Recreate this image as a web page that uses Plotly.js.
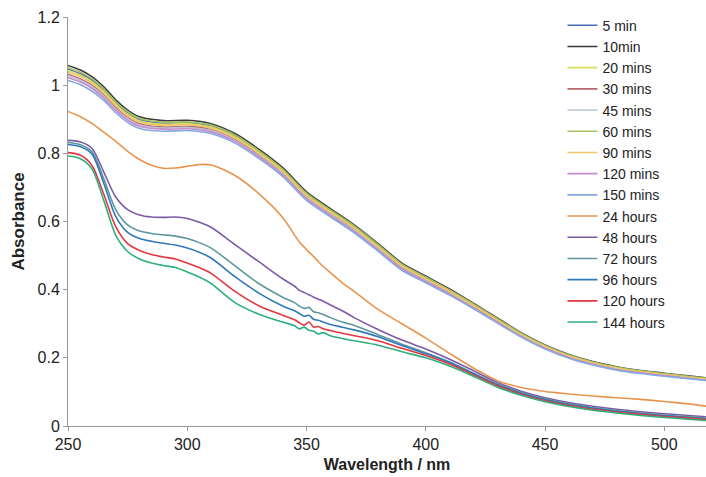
<!DOCTYPE html>
<html>
<head>
<meta charset="utf-8">
<script src="https://cdn.plot.ly/plotly-3.0.1.min.js"></script>
<style>
  html, body { margin: 0; padding: 0; background: #fff; }
  #chart { width: 706px; height: 477px; }
</style>
</head>
<body>
<div id="chart"></div>
<script>
// Wavelength grid (nm) for the early, closely bunched spectra
const wl = [250,255,260,265,270,275,280,290,300,310,320,330,340,350,360,370,380,390,400,410,420,430,440,450,460,470,480,490,500,510,518];

// Denser grid for the later spectra, which are noisy around 345-360 nm
const wlLate = [250,255,260,265,270,275,280,285,290,295,300,305,310,320,330,340,345,347,349,351,353,355,357,360,365,370,380,390,400,410,420,430,440,450,460,470,480,490,500,510,518];

// Absorbance, minutes series
const abs5min   = [1.047,1.034,1.015,0.985,0.948,0.918,0.899,0.888,0.890,0.880,0.851,0.805,0.752,0.681,0.632,0.584,0.530,0.473,0.435,0.398,0.356,0.313,0.271,0.235,0.207,0.187,0.172,0.161,0.153,0.145,0.139];
const abs10min  = [1.058,1.045,1.025,0.995,0.957,0.927,0.907,0.896,0.897,0.887,0.858,0.812,0.758,0.687,0.638,0.590,0.535,0.478,0.440,0.402,0.360,0.317,0.274,0.238,0.210,0.189,0.174,0.163,0.155,0.147,0.141];
const abs20min  = [1.043,1.030,1.010,0.981,0.944,0.914,0.895,0.885,0.887,0.877,0.848,0.803,0.749,0.678,0.630,0.582,0.527,0.471,0.433,0.396,0.354,0.312,0.269,0.234,0.206,0.186,0.171,0.160,0.152,0.144,0.138];
const abs30min  = [1.032,1.019,1.000,0.971,0.934,0.905,0.887,0.877,0.879,0.870,0.841,0.796,0.742,0.672,0.624,0.576,0.522,0.465,0.428,0.391,0.350,0.308,0.266,0.231,0.203,0.183,0.168,0.158,0.150,0.142,0.136];
const abs45min  = [1.027,1.015,0.996,0.967,0.930,0.902,0.883,0.874,0.876,0.867,0.838,0.793,0.740,0.670,0.621,0.574,0.520,0.463,0.426,0.389,0.349,0.307,0.265,0.230,0.202,0.182,0.167,0.157,0.149,0.141,0.135];
const abs60min  = [1.051,1.039,1.019,0.989,0.951,0.922,0.902,0.891,0.892,0.883,0.854,0.808,0.754,0.683,0.634,0.587,0.532,0.475,0.437,0.399,0.358,0.315,0.272,0.236,0.208,0.188,0.173,0.162,0.154,0.146,0.140];
const abs90min  = [1.038,1.026,1.006,0.977,0.940,0.911,0.892,0.882,0.884,0.874,0.845,0.800,0.746,0.676,0.627,0.580,0.525,0.469,0.431,0.394,0.353,0.310,0.268,0.233,0.205,0.185,0.170,0.159,0.151,0.143,0.137];
const abs120min = [1.022,1.010,0.991,0.962,0.926,0.897,0.879,0.871,0.872,0.863,0.835,0.790,0.737,0.667,0.618,0.571,0.517,0.461,0.424,0.387,0.347,0.305,0.263,0.228,0.201,0.181,0.166,0.156,0.148,0.140,0.134];
const abs150min = [1.014,1.002,0.983,0.955,0.919,0.891,0.873,0.865,0.867,0.858,0.830,0.785,0.732,0.662,0.614,0.567,0.513,0.457,0.420,0.384,0.344,0.302,0.261,0.226,0.199,0.179,0.164,0.154,0.146,0.139,0.133];

// Absorbance, hours series
const abs24h  = [0.923,0.908,0.888,0.862,0.835,0.806,0.782,0.765,0.756,0.757,0.762,0.767,0.766,0.735,0.682,0.612,0.560,0.540,0.525,0.510,0.497,0.482,0.468,0.450,0.420,0.395,0.342,0.300,0.258,0.213,0.170,0.133,0.113,0.101,0.094,0.088,0.083,0.078,0.072,0.065,0.058];
const abs48h  = [0.838,0.834,0.815,0.745,0.672,0.635,0.619,0.613,0.612,0.613,0.609,0.598,0.583,0.532,0.482,0.432,0.410,0.398,0.392,0.385,0.378,0.372,0.366,0.355,0.338,0.318,0.283,0.252,0.226,0.196,0.162,0.128,0.102,0.083,0.069,0.058,0.049,0.042,0.036,0.031,0.027];
const abs72h  = [0.832,0.826,0.805,0.725,0.635,0.590,0.572,0.565,0.561,0.557,0.550,0.538,0.522,0.470,0.418,0.378,0.362,0.352,0.345,0.348,0.335,0.332,0.327,0.318,0.305,0.295,0.268,0.240,0.215,0.188,0.155,0.123,0.098,0.079,0.065,0.054,0.045,0.038,0.032,0.027,0.023];
const abs96h  = [0.826,0.820,0.798,0.712,0.615,0.568,0.550,0.542,0.536,0.531,0.522,0.510,0.493,0.438,0.390,0.352,0.338,0.330,0.322,0.325,0.313,0.310,0.305,0.298,0.290,0.282,0.262,0.236,0.212,0.186,0.153,0.121,0.096,0.077,0.063,0.052,0.043,0.036,0.030,0.025,0.021];
const abs120h = [0.802,0.795,0.765,0.680,0.585,0.535,0.515,0.503,0.496,0.490,0.478,0.465,0.448,0.395,0.353,0.325,0.312,0.303,0.296,0.305,0.290,0.292,0.285,0.280,0.272,0.265,0.250,0.228,0.207,0.182,0.150,0.118,0.093,0.074,0.060,0.049,0.041,0.034,0.028,0.023,0.019];
const abs144h = [0.792,0.785,0.755,0.662,0.560,0.512,0.490,0.478,0.471,0.465,0.452,0.437,0.418,0.362,0.328,0.305,0.294,0.285,0.290,0.281,0.278,0.270,0.274,0.265,0.257,0.250,0.237,0.218,0.200,0.176,0.146,0.114,0.090,0.071,0.057,0.046,0.038,0.031,0.025,0.020,0.016];

const seriesNames = ["5 min","10min","20 mins","30 mins","45 mins","60 mins","90 mins","120 mins","150 mins",
                     "24 hours","48 hours","72 hours","96 hours","120 hours","144 hours"];
const seriesX = [wl,wl,wl,wl,wl,wl,wl,wl,wl,wlLate,wlLate,wlLate,wlLate,wlLate,wlLate];
const seriesY = [abs5min,abs10min,abs20min,abs30min,abs45min,abs60min,abs90min,abs120min,abs150min,
                 abs24h,abs48h,abs72h,abs96h,abs120h,abs144h];
const seriesColors = ["#4A6FB8","#3A3A3A","#D6E05A","#B5676E","#BCC3D4","#A5C063","#F2C56A","#C68ACF","#86A9DD",
                      "#E7954E","#7C5BA6","#5E97A0","#3179B8","#E3373F","#2EAF7D"];

const traces = seriesNames.map((name, i) => ({
  type: "scatter",
  mode: "lines",
  name: name,
  x: seriesX[i],
  y: seriesY[i],
  line: { color: seriesColors[i], width: 1.6, shape: "spline", smoothing: 0.8 },
  hoverinfo: "skip"
}));

const fontFamily = "Arial, Liberation Sans, sans-serif";
const axisFont = { family: fontFamily, size: 16, color: "#222" };

const layout = {
  width: 706,
  height: 477,
  margin: { l: 68, r: 0, t: 17, b: 51 },
  paper_bgcolor: "#fff",
  plot_bgcolor: "#fff",
  showlegend: true,
  legend: {
    x: 0.775, xanchor: "left",
    y: 1.018, yanchor: "top",
    maxheight: 470,
    font: { family: fontFamily, size: 14, color: "#222" },
    bgcolor: "rgba(255,255,255,0)",
    tracegroupgap: 0
  },
  xaxis: {
    range: [250, 517.5],
    tickvals: [250, 300, 350, 400, 450, 500],
    ticks: "outside", ticklen: 4, tickcolor: "#999",
    showline: true, linecolor: "#999", linewidth: 1,
    showgrid: false, zeroline: false,
    tickfont: axisFont,
    title: { text: "<b>Wavelength / nm</b>", font: { family: fontFamily, size: 16, color: "#222" }, standoff: 6 }
  },
  yaxis: {
    range: [0, 1.2],
    tickvals: [0, 0.2, 0.4, 0.6, 0.8, 1, 1.2],
    ticktext: ["0", "0.2", "0.4", "0.6", "0.8", "1", "1.2"],
    ticks: "outside", ticklen: 4, tickcolor: "#999",
    showline: true, linecolor: "#999", linewidth: 1,
    showgrid: false, zeroline: false,
    tickfont: axisFont,
    title: { text: "<b>Absorbance</b>", font: { family: fontFamily, size: 17, color: "#222" }, standoff: 8 }
  }
};

Plotly.newPlot("chart", traces, layout, { displayModeBar: false, staticPlot: true });
</script>
</body>
</html>
